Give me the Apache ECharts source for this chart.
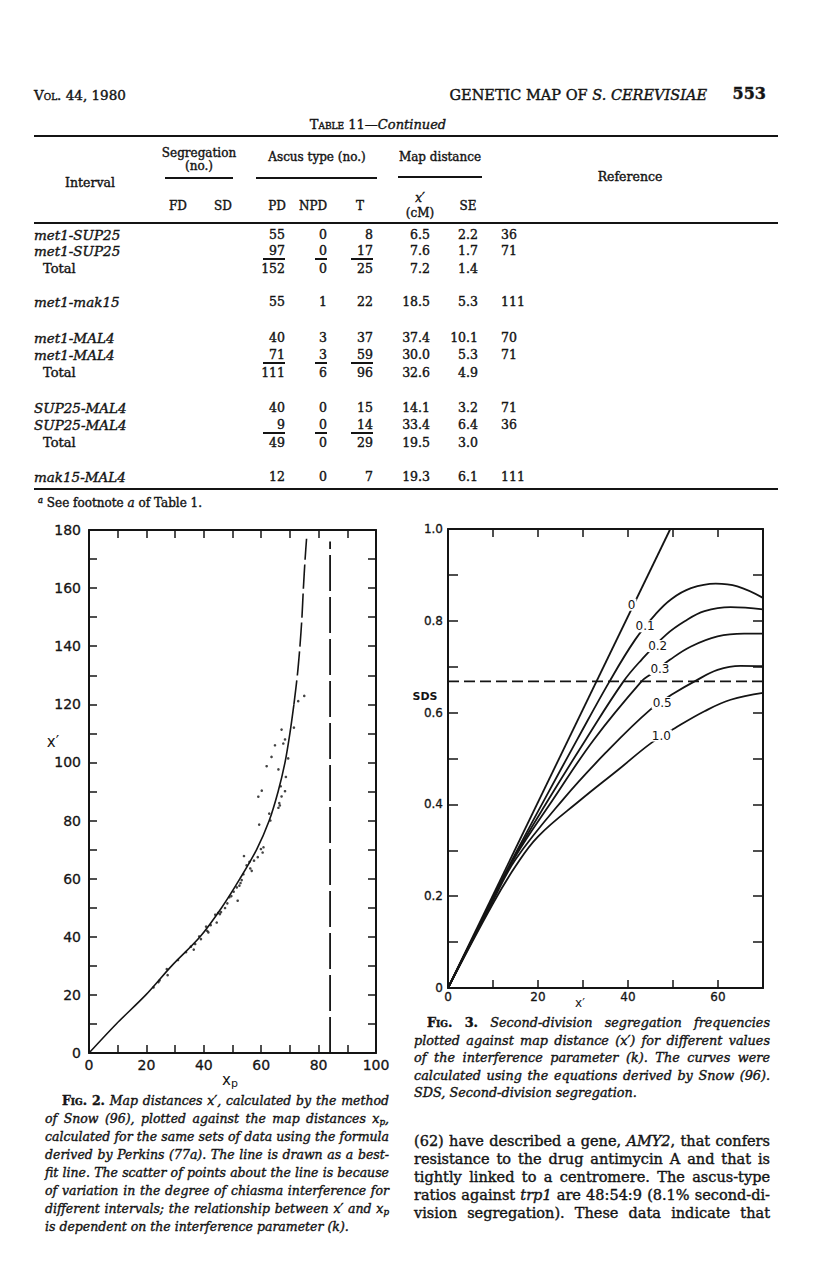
<!DOCTYPE html>
<html>
<head>
<meta charset="utf-8">
<title>Genetic map of S. cerevisiae, p. 553</title>
<script src="https://cdn.jsdelivr.net/npm/echarts@6/dist/echarts.min.js"></script>
<style>
  body { margin: 0; background: #fff; }
  #page { position: relative; width: 816px; height: 1278px; overflow: hidden; background: #fff;
          font-family: 'DejaVu Serif', serif; color: #141414; -webkit-text-stroke: 0.4px #141414; }
  #chart { position: absolute; left: 0; top: 0; width: 816px; height: 1278px; }
  .t { position: absolute; white-space: nowrap; line-height: 16px; }
  .rule { position: absolute; background: #141414; }
  .sc { font-variant: small-caps; }
  sub { font-size: 70%; vertical-align: -2px; line-height: 0; }
  sup { font-size: 70%; vertical-align: 4px; line-height: 0; }
</style>
</head>
<body>
<div id="page"><div id="chart"></div></div>
<script>
/* ---------- Table 11 (continued) ---------- */
var intervals = ['met1-SUP25', 'met1-SUP25', 'Total', 'met1-mak15', 'met1-MAL4', 'met1-MAL4', 'Total',
                 'SUP25-MAL4', 'SUP25-MAL4', 'Total', 'mak15-MAL4'];
var colPD  = ['55', '97', '152', '55', '40', '71', '111', '40', '9', '49', '12'];
var colNPD = ['0', '0', '0', '1', '3', '3', '6', '0', '0', '0', '0'];
var colT   = ['8', '17', '25', '22', '37', '59', '96', '15', '14', '29', '7'];
var colXp  = ['6.5', '7.6', '7.2', '18.5', '37.4', '30.0', '32.6', '14.1', '33.4', '19.5', '19.3'];
var colSE  = ['2.2', '1.7', '1.4', '5.3', '10.1', '5.3', '4.9', '3.2', '6.4', '3.0', '6.1'];
var colRef = ['36', '71', '', '111', '70', '71', '', '71', '36', '', '111'];
var sumRows = [1, 5, 8];

/* ---------- Fig. 2 : x' against xp ---------- */
var fitXp = [0, 9.5, 19.8, 28.8, 38.7, 46.2, 52.6, 58.4, 62.8, 65.9, 68.3, 70.0, 71.4, 72.6, 73.5, 74.2, 74.7, 75.3, 75.8];
var fitX  = [0, 10, 20, 30, 40, 50, 60, 70, 80, 90, 100, 110, 120, 130, 140, 150, 160, 170, 177];
var fitDashFrom = 12;          // the best-fit line is dashed above x' = 120
var dotXp = [22.5, 24.2, 24.6, 27.1, 27.4, 31, 33.8, 35.5, 36.5, 37, 38.4, 39, 40.8, 41.2, 41.6, 42.4, 44, 44.5,
             45, 45.6, 46, 47.4, 48.2, 48.9, 49.6, 50.4, 51.8, 51.5, 52.4, 52.8, 53.2, 53.8, 54, 54.9, 55.9, 56.2,
             56.7, 57.5, 58.8, 59.3, 59.9, 60.5, 60.8, 62.8, 63.2, 66, 66.3, 59, 60.2, 61.9, 63.6, 64.8, 66, 67.1,
             67.7, 68.3, 66.5, 66.8, 67.1, 68.3, 68.6, 69.4, 71.4, 72.9, 75];
var dotX  = [22.6, 24.4, 25, 28.9, 26.8, 32, 34.7, 36.6, 35.6, 37.5, 40.1, 39.2, 43.5, 42, 41.5, 44, 47.6, 44.9,
             48.2, 47.8, 48.5, 49.9, 51.5, 53.6, 54, 55.5, 52.4, 57, 57.6, 58.5, 59.5, 61.5, 67.8, 64.6, 65.8, 63.5,
             62.7, 66.2, 67.4, 78.6, 70.2, 69, 70.8, 82.4, 80, 84.4, 86, 88.2, 90.3, 98.7, 101.9, 105.9, 97.6, 111.3,
             106.5, 107.9, 85.2, 91.8, 88.3, 90.1, 95, 101.4, 112, 121.1, 122.9];
var limitXp = 84, limitTop = 176;

/* ---------- Fig. 3 : SDS against x' for interference k ---------- */
var kNames = ['0', '0.1', '0.2', '0.3', '0.5', '1.0'];
var sdsK0  = [[0, 0], [49.4, 1.0]];
var sdsK01 = [[0, 0], [10, 0.197], [15, 0.293], [21.4, 0.41], [28.7, 0.541], [35.9, 0.668], [41.6, 0.759], [46, 0.813],
              [49.6, 0.847], [54, 0.871], [59.5, 0.881], [64.3, 0.875], [70, 0.85]];
var sdsK02 = [[0, 0], [10, 0.196], [15, 0.29], [22.3, 0.41], [30.6, 0.541], [39, 0.668], [43, 0.715], [48.5, 0.77],
              [52.6, 0.799], [57, 0.821], [62.8, 0.83], [70, 0.825]];
var sdsK03 = [[0, 0], [10, 0.194], [15, 0.287], [23.3, 0.41], [32.4, 0.541], [43, 0.668], [45, 0.683], [49.3, 0.715],
              [54, 0.744], [59.9, 0.766], [65.8, 0.772], [70, 0.772]];
var sdsK05 = [[0, 0], [10, 0.19], [15, 0.28], [25.5, 0.41], [35, 0.512], [44.9, 0.606], [50.4, 0.643], [54.8, 0.668],
              [59.9, 0.693], [65, 0.702], [70, 0.701]];
var sdsK10 = [[0, 0], [10, 0.184], [15, 0.265], [20, 0.33], [29.5, 0.41], [37.9, 0.476], [45.2, 0.534], [50.4, 0.566],
              [57, 0.603], [62.8, 0.628], [70, 0.643]];
var sdsRef = 0.668;
var kLabelAt = [[40.8, 0.835], [43.8, 0.788], [46.6, 0.745], [47.1, 0.695], [47.6, 0.621], [47.4, 0.55]];

var ink = '#141414';
var page = document.getElementById('page');

/* ---------- page text helpers ---------- */
function put(html, x, y, o) {
	o = o || {};
	var d = document.createElement('div');
	d.className = 't';
	d.innerHTML = html;
	d.style.fontSize = (o.size || 12) + 'px';
	if (o.weight) d.style.fontWeight = o.weight;
	if (o.italic) d.style.fontStyle = 'italic';
	d.style.top = (y - 8) + 'px';
	if (o.align === 'right') {
		d.style.right = (816 - x) + 'px';
	} else if (o.align === 'center') {
		d.style.left = (x - 150) + 'px'; d.style.width = '300px'; d.style.textAlign = 'center';
	} else {
		d.style.left = x + 'px';
	}
	page.appendChild(d);
	return d;
}
function rule(x1, x2, y, h) {
	var d = document.createElement('div');
	d.className = 'rule';
	d.style.left = x1 + 'px'; d.style.width = (x2 - x1) + 'px';
	d.style.top = (y - h / 2) + 'px'; d.style.height = h + 'px';
	page.appendChild(d);
}
// one printed line per entry, stretched to the column width by word spacing
function para(lines, x, y0, w, step, size, o) {
	o = o || {};
	lines.forEach(function(h, i) {
		var ind = i === 0 ? (o.indent || 0) : 0;
		var d = put('<span>' + h + '</span>', x + ind, y0 + i * step, { size: size });
		if (i === lines.length - 1 && !o.justifyLast) return;
		var nat = d.firstChild.getBoundingClientRect().width;
		var gaps = (d.textContent.match(/ /g) || []).length;
		if (gaps) d.style.wordSpacing = ((w - ind - nat) / gaps) + 'px';
	});
}

/* ---------- running head ---------- */
put('<span class="sc">Vol.</span> 44, 1980', 34, 95, { size: 13.5 });
put('GENETIC MAP OF <i>S. CEREVISIAE</i>', 707, 95, { size: 14.5, align: 'right' });
put('553', 766, 94, { size: 16, weight: 'bold', align: 'right' });

/* ---------- table ---------- */
put('<span class="sc">Table</span> 11—<i>Continued</i>', 378, 125, { size: 13, align: 'center' });
rule(34, 778, 136, 2);
put('Segregation', 199, 153, { size: 12, align: 'center' });
put('(no.)', 199, 166, { size: 12, align: 'center' });
put('Ascus type (no.)', 317, 157, { size: 12, align: 'center' });
put('Map distance', 440, 157, { size: 12, align: 'center' });
rule(165, 233, 178, 1.3); rule(256, 377, 178, 1.3); rule(398, 482, 177, 1.3);
put('Interval', 90, 183, { size: 12.5, align: 'center' });
put('Reference', 630, 177, { size: 12.5, align: 'center' });
[['FD', 178], ['SD', 223], ['PD', 277], ['NPD', 313], ['T', 360], ['SE', 468]].forEach(function(h) {
	put(h[0], h[1], 206, { size: 12, align: 'center' });
});
put('<i>x′</i>', 420, 198, { size: 12, align: 'center' });
put('(cM)', 420, 213, { size: 12, align: 'center' });
rule(34, 778, 223, 1.5);

var rowY = [235, 251, 269, 302, 338, 355, 373, 408, 425, 443, 477];
intervals.forEach(function(name, i) {
	var y = rowY[i];
	if (name === 'Total') put('Total', 43, y, { size: 13 });
	else put(name, 34, y, { size: 13.5, italic: true });
	put(colPD[i], 285, y, { size: 12.5, align: 'right' });
	put(colNPD[i], 327, y, { size: 12.5, align: 'right' });
	put(colT[i], 373, y, { size: 12.5, align: 'right' });
	put(colXp[i], 430, y, { size: 12.5, align: 'right' });
	put(colSE[i], 478, y, { size: 12.5, align: 'right' });
	if (colRef[i]) put(colRef[i], 501, y, { size: 12.5 });
	if (sumRows.indexOf(i) >= 0) {
		rule(263, 285, y + 8, 1.2); rule(315, 327, y + 8, 1.2); rule(351, 373, y + 8, 1.2);
	}
});
rule(34, 778, 489, 2);
put('<sup><i>a</i></sup> See footnote <i>a</i> of Table 1.', 38, 503, { size: 12 });

/* ---------- captions and text ---------- */
para([
	'<b class="sc">Fig.</b> <b>2.</b> <i>Map distances x′, calculated by the method</i>',
	'<i>of Snow (96), plotted against the map distances x<sub>p</sub>,</i>',
	'<i>calculated for the same sets of data using the formula</i>',
	'<i>derived by Perkins (77a). The line is drawn as a best-</i>',
	'<i>fit line. The scatter of points about the line is because</i>',
	'<i>of variation in the degree of chiasma interference for</i>',
	'<i>different intervals; the relationship between x′ and x<sub>p</sub></i>',
	'<i>is dependent on the interference parameter (k).</i>'
], 45, 1101, 344, 18, 12.5, { indent: 17 });

para([
	'<b class="sc">Fig.</b> <b>3.</b> <i>Second-division segregation frequencies</i>',
	'<i>plotted against map distance (x′) for different values</i>',
	'<i>of the interference parameter (k). The curves were</i>',
	'<i>calculated using the equations derived by Snow (96).</i>',
	'<i>SDS, Second-division segregation.</i>'
], 414, 1023, 356, 17.5, 12.8, { indent: 13 });

para([
	'(62) have described a gene, <i>AMY2</i>, that confers',
	'resistance to the drug antimycin A and that is',
	'tightly linked to a centromere. The ascus-type',
	'ratios against <i>trp1</i> are 48:54:9 (8.1% second-di-',
	'vision segregation). These data indicate that'
], 414, 1141, 356, 18, 14.5, { justifyLast: true });

/* ---------- the two figures ---------- */
function frameAxis(g, pos, min, max, step, len, fmt, fs, margin) {
	return {
		type: 'value', gridIndex: g, position: pos, min: min, max: max, interval: step,
		axisLine: { show: true, onZero: false, lineStyle: { color: ink, width: 2 } },
		axisTick: { show: true, inside: true, length: len, lineStyle: { color: ink, width: 1.5 } },
		axisLabel: fmt ? { show: true, formatter: fmt, color: ink, fontSize: fs, fontFamily: 'DejaVu Sans', margin: margin,
		                   textBorderColor: ink, textBorderWidth: 0.3, showMinLabel: true, showMaxLabel: true } : { show: false },
		splitLine: { show: false }
	};
}
function every20(v) { return v % 20 === 0 ? String(v) : ''; }
function sdsFmt(v) {
	var t = Math.round(v * 10);
	if (t % 2) return '';
	return t === 0 ? '0' : (t / 10).toFixed(1);
}

var fitPts = fitXp.map(function(x, i) { return [x, fitX[i]]; });
var dots = dotXp.map(function(x, i) { return [x, dotX[i]]; });
var kCurves = [sdsK0, sdsK01, sdsK02, sdsK03, sdsK05, sdsK10];

var series = [{
	type: 'line', xAxisIndex: 0, yAxisIndex: 0, data: fitPts.slice(0, fitDashFrom + 1),
	showSymbol: false, smooth: 0.3, lineStyle: { color: ink, width: 1.6 }, silent: true
}, {
	type: 'line', xAxisIndex: 0, yAxisIndex: 0, data: fitPts.slice(fitDashFrom),
	showSymbol: false, smooth: 0.3, lineStyle: { color: ink, width: 1.6, type: [24, 5] }, silent: true
}, {
	type: 'line', xAxisIndex: 0, yAxisIndex: 0, data: [[limitXp, 0], [limitXp, limitTop]],
	showSymbol: false, lineStyle: { color: ink, width: 1.8, type: [36, 6] }, silent: true
}, {
	type: 'scatter', xAxisIndex: 0, yAxisIndex: 0, data: dots, symbolSize: 2.6,
	itemStyle: { color: ink }, silent: true
}, {
	type: 'line', xAxisIndex: 2, yAxisIndex: 2, data: [[0, sdsRef], [70, sdsRef]],
	showSymbol: false, lineStyle: { color: ink, width: 1.6, type: [11, 5] }, silent: true
}];
kCurves.forEach(function(c, i) {
	series.push({
		type: 'line', xAxisIndex: 2, yAxisIndex: 2, data: c, name: 'k = ' + kNames[i],
		showSymbol: false, smooth: 0.4, lineStyle: { color: ink, width: 1.8 }, silent: true,
		markPoint: {
			symbol: 'rect', symbolSize: 1, silent: true, itemStyle: { color: 'rgba(0,0,0,0)' },
			label: { show: true, position: 'inside', formatter: kNames[i], color: ink, fontSize: 12,
			         fontFamily: 'DejaVu Sans', backgroundColor: '#fff', padding: [0, 1] },
			data: [{ coord: kLabelAt[i] }]
		}
	});
});

var chart = echarts.init(document.getElementById('chart'), null, { renderer: 'svg' });
chart.setOption({
	animation: false,
	backgroundColor: 'transparent',
	grid: [
		{ left: 89, top: 530, width: 287, height: 523 },
		{ left: 448, top: 529, width: 315, height: 459 }
	],
	xAxis: [
		frameAxis(0, 'bottom', 0, 100, 10, 8, every20, 14, 5),
		frameAxis(0, 'top', 0, 100, 10, 8, null),
		frameAxis(1, 'bottom', 0, 70, 10, 8, every20, 12, 3),
		frameAxis(1, 'top', 0, 70, 10, 8, null)
	],
	yAxis: [
		frameAxis(0, 'left', 0, 180, 10, 8, every20, 14, 8),
		frameAxis(0, 'right', 0, 180, 10, 8, null),
		frameAxis(1, 'left', 0, 1, 0.1, 10, sdsFmt, 12, 5),
		frameAxis(1, 'right', 0, 1, 0.1, 10, null)
	],
	graphic: [
		{ type: 'text', x: 53, y: 742, style: { text: 'x′', fill: ink, font: '15px DejaVu Sans', align: 'center', verticalAlign: 'middle' } },
		{ type: 'text', x: 230, y: 1080, style: { text: '{a|x}{b|p}', fill: ink, align: 'center', verticalAlign: 'middle',
			rich: { a: { fontSize: 15, fontFamily: 'DejaVu Sans' }, b: { fontSize: 11, fontFamily: 'DejaVu Sans', padding: [7, 0, 0, 0] } } } },
		{ type: 'text', x: 425, y: 696, style: { text: 'SDS', fill: ink, font: 'bold 11px DejaVu Sans', align: 'center', verticalAlign: 'middle' } },
		{ type: 'text', x: 580, y: 1003, style: { text: 'x′', fill: ink, font: '12px DejaVu Sans', align: 'center', verticalAlign: 'middle' } }
	],
	series: series
});
</script>
</body>
</html>
